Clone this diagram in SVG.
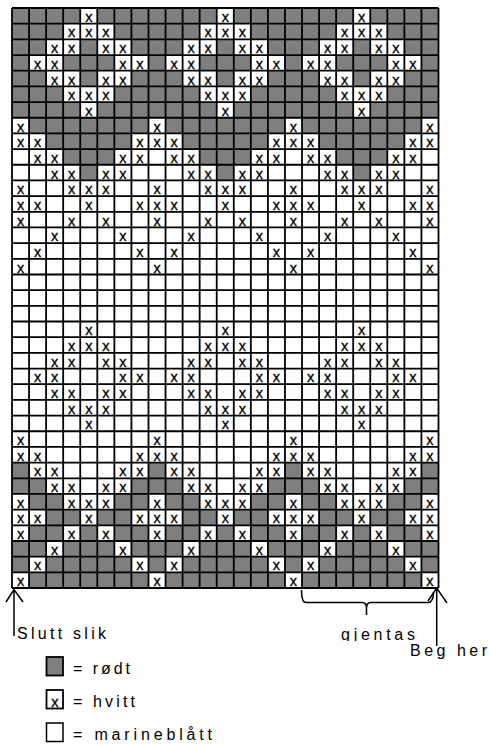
<svg xmlns="http://www.w3.org/2000/svg" width="489" height="745" viewBox="0 0 489 745">
<style>
.g{fill:#7f7f7f}
.grid{fill:none;stroke:#000;stroke-width:1.8}
.xm{font-family:"Liberation Sans",Arial,sans-serif;font-size:14.5px;text-anchor:middle;fill:#000;stroke:#000;stroke-width:0.3}
.lbl{font-family:"Liberation Sans",Arial,sans-serif;font-size:16px;fill:#000}
.ln{fill:none;stroke:#000;stroke-width:1.5}
</style>
<defs>
<clipPath id="clipG"><rect x="330" y="615" width="100" height="26"/></clipPath>
</defs>
<rect width="489" height="745" fill="#fff"/>
<g id="chart">
<g id="cells" transform="translate(12 8) scale(17.06 15.676)">
<path class="g" d="M0 0H4V1H0Z M5 0H12V1H5Z M13 0H20V1H13Z M21 0H25V1H21Z
M0 1H3V2H0Z M6 1H11V2H6Z M14 1H19V2H14Z M22 1H25V2H22Z
M0 2H2V3H0Z M4 2H5V3H4Z M7 2H10V3H7Z M12 2H13V3H12Z M15 2H18V3H15Z M20 2H21V3H20Z M23 2H25V3H23Z
M0 3H1V4H0Z M3 3H6V4H3Z M8 3H9V4H8Z M11 3H14V4H11Z M16 3H17V4H16Z M19 3H22V4H19Z M24 3H25V4H24Z
M0 4H2V5H0Z M4 4H5V5H4Z M7 4H10V5H7Z M12 4H13V5H12Z M15 4H18V5H15Z M20 4H21V5H20Z M23 4H25V5H23Z
M0 5H3V6H0Z M6 5H11V6H6Z M14 5H19V6H14Z M22 5H25V6H22Z
M0 6H4V7H0Z M5 6H12V7H5Z M13 6H20V7H13Z M21 6H25V7H21Z
M1 7H8V8H1Z M9 7H16V8H9Z M17 7H24V8H17Z
M2 8H7V9H2Z M10 8H15V9H10Z M18 8H23V9H18Z
M3 9H6V10H3Z M11 9H14V10H11Z M19 9H22V10H19Z
M4 10H5V11H4Z M12 10H13V11H12Z M20 10H21V11H20Z
M0 29H1V30H0Z M8 29H9V30H8Z M16 29H17V30H16Z M24 29H25V30H24Z
M0 30H2V31H0Z M7 30H10V31H7Z M15 30H18V31H15Z M23 30H25V31H23Z
M1 31H3V32H1Z M6 31H8V32H6Z M9 31H11V32H9Z M14 31H16V32H14Z M17 31H19V32H17Z M22 31H24V32H22Z
M2 32H4V33H2Z M5 32H7V33H5Z M10 32H12V33H10Z M13 32H15V33H13Z M18 32H20V33H18Z M21 32H23V33H21Z
M1 33H3V34H1Z M4 33H5V34H4Z M6 33H8V34H6Z M9 33H11V34H9Z M12 33H13V34H12Z M14 33H16V34H14Z M17 33H19V34H17Z M20 33H21V34H20Z M22 33H24V34H22Z
M0 34H2V35H0Z M3 34H6V35H3Z M7 34H10V35H7Z M11 34H14V35H11Z M15 34H18V35H15Z M19 34H22V35H19Z M23 34H25V35H23Z
M0 35H1V36H0Z M2 35H7V36H2Z M8 35H9V36H8Z M10 35H15V36H10Z M16 35H17V36H16Z M18 35H23V36H18Z M24 35H25V36H24Z
M1 36H8V37H1Z M9 36H16V37H9Z M17 36H24V37H17Z"/>
<path class="grid" vector-effect="non-scaling-stroke" d="M0 0V37 M1 0V37 M2 0V37 M3 0V37 M4 0V37 M5 0V37 M6 0V37 M7 0V37 M8 0V37 M9 0V37 M10 0V37 M11 0V37 M12 0V37 M13 0V37 M14 0V37 M15 0V37 M16 0V37 M17 0V37 M18 0V37 M19 0V37 M20 0V37 M21 0V37 M22 0V37 M23 0V37 M24 0V37 M25 0V37
M0 0H25 M0 1H25 M0 2H25 M0 3H25 M0 4H25 M0 5H25 M0 6H25 M0 7H25 M0 8H25 M0 9H25 M0 10H25 M0 11H25 M0 12H25 M0 13H25 M0 14H25 M0 15H25 M0 16H25 M0 17H25 M0 18H25 M0 19H25 M0 20H25 M0 21H25 M0 22H25 M0 23H25 M0 24H25 M0 25H25 M0 26H25 M0 27H25 M0 28H25 M0 29H25 M0 30H25 M0 31H25 M0 32H25 M0 33H25 M0 34H25 M0 35H25 M0 36H25 M0 37H25"/>
</g>
<g id="marks" class="xm">
<text x="88.77 225.25 361.73" y="21.80">xxx</text>
<text x="71.71 88.77 105.83 208.19 225.25 242.31 344.67 361.73 378.79" y="37.48">xxxxxxxxx</text>
<text x="54.65 71.71 105.83 122.89 191.13 208.19 242.31 259.37 327.61 344.67 378.79 395.85" y="53.15">xxxxxxxxxxxx</text>
<text x="37.59 54.65 122.89 139.95 174.07 191.13 259.37 276.43 310.55 327.61 395.85 412.91" y="68.83">xxxxxxxxxxxx</text>
<text x="54.65 71.71 105.83 122.89 191.13 208.19 242.31 259.37 327.61 344.67 378.79 395.85" y="84.50">xxxxxxxxxxxx</text>
<text x="71.71 88.77 105.83 208.19 225.25 242.31 344.67 361.73 378.79" y="100.18">xxxxxxxxx</text>
<text x="88.77 225.25 361.73" y="115.86">xxx</text>
<text x="20.53 157.01 293.49 429.97" y="131.53">xxxx</text>
<text x="20.53 37.59 139.95 157.01 174.07 276.43 293.49 310.55 412.91 429.97" y="147.21">xxxxxxxxxx</text>
<text x="37.59 54.65 122.89 139.95 174.07 191.13 259.37 276.43 310.55 327.61 395.85 412.91" y="162.88">xxxxxxxxxxxx</text>
<text x="54.65 71.71 105.83 122.89 191.13 208.19 242.31 259.37 327.61 344.67 378.79 395.85" y="178.56">xxxxxxxxxxxx</text>
<text x="20.53 71.71 88.77 105.83 157.01 208.19 225.25 242.31 293.49 344.67 361.73 378.79 429.97" y="194.24">xxxxxxxxxxxxx</text>
<text x="20.53 37.59 88.77 139.95 157.01 174.07 225.25 276.43 293.49 310.55 361.73 412.91 429.97" y="209.91">xxxxxxxxxxxxx</text>
<text x="20.53 71.71 105.83 157.01 208.19 242.31 293.49 344.67 378.79 429.97" y="225.59">xxxxxxxxxx</text>
<text x="54.65 122.89 191.13 259.37 327.61 395.85" y="241.26">xxxxxx</text>
<text x="37.59 139.95 174.07 276.43 310.55 412.91" y="256.94">xxxxxx</text>
<text x="20.53 157.01 293.49 429.97" y="272.62">xxxx</text>
<text x="88.77 225.25 361.73" y="335.32">xxx</text>
<text x="71.71 88.77 105.83 208.19 225.25 242.31 344.67 361.73 378.79" y="351.00">xxxxxxxxx</text>
<text x="54.65 71.71 105.83 122.89 191.13 208.19 242.31 259.37 327.61 344.67 378.79 395.85" y="366.67">xxxxxxxxxxxx</text>
<text x="37.59 54.65 122.89 139.95 174.07 191.13 259.37 276.43 310.55 327.61 395.85 412.91" y="382.35">xxxxxxxxxxxx</text>
<text x="54.65 71.71 105.83 122.89 191.13 208.19 242.31 259.37 327.61 344.67 378.79 395.85" y="398.02">xxxxxxxxxxxx</text>
<text x="71.71 88.77 105.83 208.19 225.25 242.31 344.67 361.73 378.79" y="413.70">xxxxxxxxx</text>
<text x="88.77 225.25 361.73" y="429.38">xxx</text>
<text x="20.53 157.01 293.49 429.97" y="445.05">xxxx</text>
<text x="20.53 37.59 139.95 157.01 174.07 276.43 293.49 310.55 412.91 429.97" y="460.73">xxxxxxxxxx</text>
<text x="37.59 54.65 122.89 139.95 174.07 191.13 259.37 276.43 310.55 327.61 395.85 412.91" y="476.40">xxxxxxxxxxxx</text>
<text x="54.65 71.71 105.83 122.89 191.13 208.19 242.31 259.37 327.61 344.67 378.79 395.85" y="492.08">xxxxxxxxxxxx</text>
<text x="20.53 71.71 88.77 105.83 157.01 208.19 225.25 242.31 293.49 344.67 361.73 378.79 429.97" y="507.76">xxxxxxxxxxxxx</text>
<text x="20.53 37.59 88.77 139.95 157.01 174.07 225.25 276.43 293.49 310.55 361.73 412.91 429.97" y="523.43">xxxxxxxxxxxxx</text>
<text x="20.53 71.71 105.83 157.01 208.19 242.31 293.49 344.67 378.79 429.97" y="539.11">xxxxxxxxxx</text>
<text x="54.65 122.89 191.13 259.37 327.61 395.85" y="554.78">xxxxxx</text>
<text x="37.59 139.95 174.07 276.43 310.55 412.91" y="570.46">xxxxxx</text>
<text x="20.53 157.01 293.49 429.97" y="586.14">xxxx</text>
</g>
</g>
<g id="connectors">
<path class="ln" d="M14 636V589.5 M6 602L14 589.5L23 602"/>
<path class="ln" d="M436.7 646V588 M428 601L436.7 588L447 603"/>
<path class="ln" d="M301.5 590Q301.5 602.5 306 602.5H362Q366.5 602.5 366.5 608V615 M366.5 608Q366.5 602.5 371 602.5H428Q433.5 602.5 433.5 592"/>
</g>
<g id="labels">
<text class="lbl" x="17" y="639" textLength="89" lengthAdjust="spacing">Slutt slik</text>
<text class="lbl" x="341" y="640" textLength="74" lengthAdjust="spacing" clip-path="url(#clipG)">gjentas</text>
<text class="lbl" x="410" y="656" textLength="77" lengthAdjust="spacing">Beg her</text>
</g>
<g id="legend">
<g id="leg-rodt">
<rect x="46.5" y="657" width="16.5" height="18.5" fill="#7f7f7f" stroke="#000" stroke-width="1.8"/>
<text class="lbl" x="73" y="674" textLength="57" lengthAdjust="spacing">= rødt</text>
</g>
<g id="leg-hvitt">
<rect x="46.5" y="690" width="16.5" height="18.5" fill="#fff" stroke="#000" stroke-width="1.8"/>
<text class="xm" x="54.8" y="706.5">x</text>
<text class="lbl" x="73" y="707" textLength="62" lengthAdjust="spacing">= hvitt</text>
</g>
<g id="leg-marine">
<rect x="46.5" y="723" width="16.5" height="18.5" fill="#fff" stroke="#000" stroke-width="1.5"/>
<text class="lbl" x="73" y="740" textLength="139" lengthAdjust="spacing">= marineblått</text>
</g>
</g>
</svg>
